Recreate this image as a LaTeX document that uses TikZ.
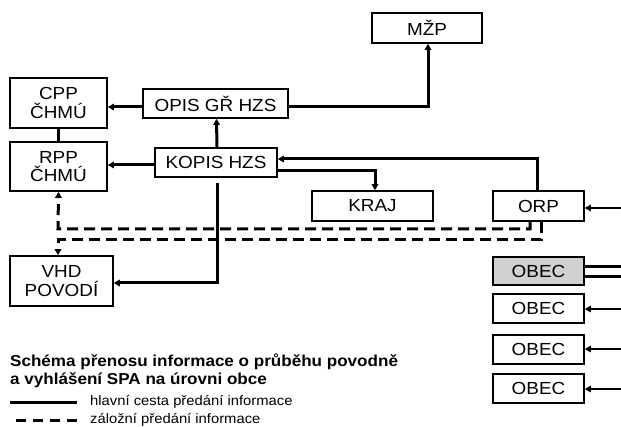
\documentclass[tikz,border=0pt]{standalone}
\usepackage{fontspec}
\setmainfont{Liberation Sans}[FakeStretch=1.08]
\usetikzlibrary{arrows.meta}
\begin{document}
\begin{tikzpicture}[x=1pt,y=-1pt,
  box/.style={draw,line width=1.6pt,rectangle,inner sep=0pt,align=center,
    font=\fontsize{17.5}{18.5}\selectfont},
  main/.style={line width=3pt},
  thin/.style={line width=1.8pt},
  arr/.style={-{Triangle[length=6pt,width=6.5pt]}},
  back/.style={line width=3pt,dash pattern=on 11pt off 6pt}]
\useasboundingbox (0,0) rectangle (621,427);
% boxes
\node[box,minimum width=97pt,minimum height=50pt] (cpp) at (58.5,103) {CPP\\ČHMÚ};
\node[box,minimum width=97pt,minimum height=49pt] (rpp) at (58.5,166.5) {RPP\\ČHMÚ};
\node[box,minimum width=145pt,minimum height=29pt] (opis) at (215.5,103.5) {OPIS GŘ HZS};
\node[box,minimum width=122pt,minimum height=29pt] (kopis) at (216,162.5) {KOPIS HZS};
\node[box,minimum width=110pt,minimum height=30pt] (mzp) at (427,28) {MŽP};
\node[box,minimum width=121pt,minimum height=30pt] (kraj) at (372.5,206) {KRAJ};
\node[box,minimum width=91pt,minimum height=30pt] (orp) at (538.5,206) {ORP};
\node[box,minimum width=103pt,minimum height=50pt] (vhd) at (61.5,281) {VHD\\POVODÍ};
\node[box,minimum width=91pt,minimum height=28pt,fill=black!18] (obec1) at (538.5,271) {OBEC};
\node[box,minimum width=91pt,minimum height=29pt] (obec2) at (538.5,308.5) {OBEC};
\node[box,minimum width=91pt,minimum height=29pt] (obec3) at (538.5,349.5) {OBEC};
\node[box,minimum width=91pt,minimum height=29pt] (obec4) at (538.5,388.5) {OBEC};
% attachment points
\coordinate (opisW) at ([yshift=-3.5pt]opis.west);
\coordinate (opisE) at ([yshift=-3.5pt]opis.east);
\coordinate (kopisW) at ([yshift=-2.5pt]kopis.west);
\coordinate (kopisE1) at ([yshift=3.5pt]kopis.east);
\coordinate (kopisE2) at ([yshift=-8.5pt]kopis.east);
\coordinate (vhdE) at ([yshift=-2pt]vhd.east);
\coordinate (bk1) at (58,229);
\coordinate (bk2) at (58,240);
% free ends on the right
\coordinate (inorp) at (621,208);
\coordinate (inob1a) at (621,267);
\coordinate (inob1b) at (621,277);
\coordinate (inob2) at (621,309);
\coordinate (inob3) at (621,349);
\coordinate (inob4) at (621,389);
% main connectors
\draw[main] (cpp.south) -- (rpp.north);
\draw[main,arr] (opisW) -- (cpp.east |- opisW);
\draw[main,arr] ([xshift=1pt]kopis.north) -- ([xshift=1pt]opis.south);
\draw[main,arr] (kopisW) -- (rpp.east |- kopisW);
\draw[main,arr] (opisE) -| ([xshift=1pt]mzp.south);
\draw[main,arr] ([xshift=-1.5pt]orp.north) |- (kopisE1);
\draw[main,arr] (kopisE2) -| ([xshift=2.5pt]kraj.north);
\draw[main,arr,shorten <=5pt] ([xshift=1pt]kopis.south) |- (vhdE);
% backup connectors
\draw[back,arr] ([xshift=-8.5pt]orp.south) |- (bk1) -- (rpp.south);
\draw[back,arr] ([xshift=2.5pt]orp.south) |- (bk2) -- (vhd.north -| bk2);
% inputs from the right
\draw[thin,arr] (inorp) -- (orp.east |- inorp);
\draw[main] (inob1a) -- (obec1.east |- inob1a);
\draw[main] (inob1b) -- (obec1.east |- inob1b);
\draw[thin,arr] (inob2) -- (obec2.east |- inob2);
\draw[thin,arr] (inob3) -- (obec3.east |- inob3);
\draw[thin,arr] (inob4) -- (obec4.east |- inob4);
% caption and legend
\node[anchor=west,inner sep=0pt,font=\bfseries\fontsize{15.8}{17}\selectfont] (t1) at (10,362) {Schéma přenosu informace o průběhu povodně};
\node[anchor=west,inner sep=0pt,font=\bfseries\fontsize{15.8}{17}\selectfont] (t2) at (10,380) {a vyhlášení SPA na úrovni obce};
\coordinate (l1a) at (10,402); \coordinate (l1b) at (77,402);
\coordinate (l2a) at (16,420); \coordinate (l2b) at (77,420);
\draw[main] (l1a) -- (l1b);
\draw[back,dash pattern=on 10pt off 7pt] (l2a) -- (l2b);
\node[anchor=west,inner sep=0pt,font=\fontsize{13.7}{15}\selectfont] (h1) at (90,402) {hlavní cesta předání informace};
\node[anchor=west,inner sep=0pt,font=\fontsize{13.7}{15}\selectfont] (h2) at (90,420) {záložní předání informace};
\end{tikzpicture}
\end{document}
